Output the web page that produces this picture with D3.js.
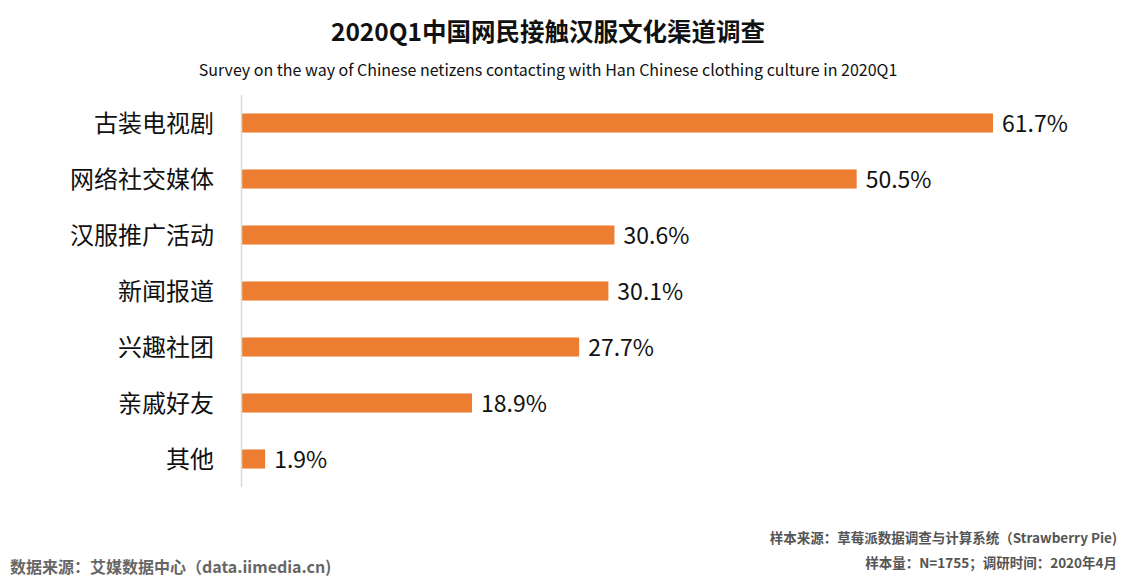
<!DOCTYPE html>
<html><head><meta charset="utf-8">
<script src="https://cdn.jsdelivr.net/npm/d3@7"></script>
<style>body{margin:0;background:#fff}svg{display:block}</style>
</head><body>
<svg id="c" width="1129" height="581"></svg>
<script>
const categories = ["古装电视剧","网络社交媒体","汉服推广活动","新闻报道","兴趣社团","亲戚好友","其他"];
const values = [61.7, 50.5, 30.6, 30.1, 27.7, 18.9, 1.9];
const valueLabels = ["61.7%","50.5%","30.6%","30.1%","27.7%","18.9%","1.9%"];
const title = "2020Q1中国网民接触汉服文化渠道调查";
const subtitle = "Survey on the way of Chinese netizens contacting with Han Chinese clothing culture in 2020Q1";
const sourceLeft = "数据来源：艾媒数据中心（data.iimedia.cn)";
const sourceRight1 = "样本来源：草莓派数据调查与计算系统（Strawberry Pie)";
const sourceRight2 = "样本量：N=1755；调研时间：2020年4月";

const svg = d3.select("#c");
const font = "'Noto Sans CJK SC','Noto Sans',sans-serif";
const x = d3.scaleLinear().domain([0, 61.7]).range([242, 993]);
const y = d3.scaleBand().domain(categories).range([95, 487]).paddingInner(0.66).paddingOuter(0.33);

svg.append("text").attr("x", 548).attr("y", 41).attr("text-anchor","middle")
  .attr("font-family", font).attr("font-weight","bold").attr("font-size", 24.5).attr("fill","#111").text(title);
svg.append("text").attr("x", 548).attr("y", 76).attr("text-anchor","middle")
  .attr("font-family", font).attr("font-size", 16).attr("fill","#111").text(subtitle);

svg.selectAll("rect.bar").data(values).join("rect").attr("class","bar")
  .attr("x", x(0)).attr("y", (d,i)=>y(categories[i]))
  .attr("width", d=>x(d)-x(0)).attr("height", y.bandwidth()).attr("fill","#ED7D31");

svg.append("line").attr("x1", x(0)-0.5).attr("x2", x(0)-0.5).attr("y1", 95).attr("y2", 487)
  .attr("stroke","#d9d9d9").attr("stroke-width",1.5);

svg.selectAll("text.cat").data(categories).join("text").attr("class","cat")
  .attr("x", 214).attr("y", d=>y(d)+y.bandwidth()/2).attr("dy","0.36em")
  .attr("text-anchor","end").attr("font-family", font).attr("font-size", 24).attr("fill","#111").text(d=>d);

svg.selectAll("text.val").data(values).join("text").attr("class","val")
  .attr("x", d=>x(d)+9).attr("y", (d,i)=>y(categories[i])+y.bandwidth()/2).attr("dy","0.38em")
  .attr("font-family", font).attr("font-size", 23).attr("fill","#111").text((d,i)=>valueLabels[i]);

svg.append("text").attr("x", 10).attr("y", 573).attr("font-family", font).attr("font-weight","bold")
  .attr("font-size", 16).attr("fill","#666").text(sourceLeft);
svg.append("text").attr("x", 1117).attr("y", 543).attr("text-anchor","end").attr("font-family", font).attr("font-weight","bold")
  .attr("font-size", 13.5).attr("fill","#555").text(sourceRight1);
svg.append("text").attr("x", 1117).attr("y", 568).attr("text-anchor","end").attr("font-family", font).attr("font-weight","bold")
  .attr("font-size", 13.5).attr("fill","#555").text(sourceRight2);
</script>
</body></html>
